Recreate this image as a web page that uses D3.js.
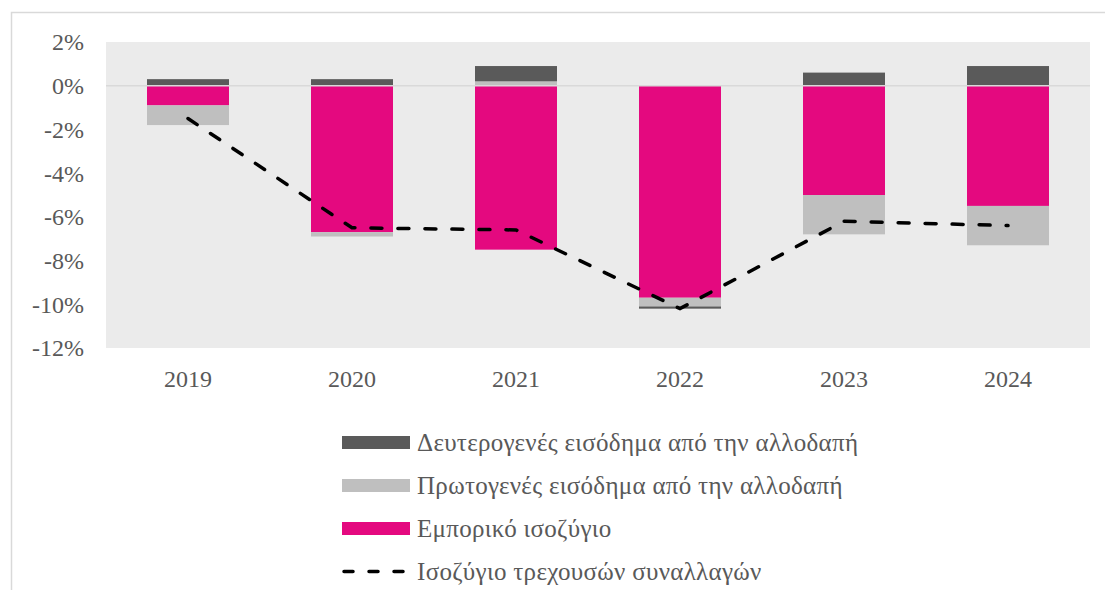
<!DOCTYPE html>
<html><head><meta charset="utf-8">
<script src="https://cdn.jsdelivr.net/npm/d3@7"></script>
<style>html,body{margin:0;padding:0;background:#fff;}</style>
</head><body>
<svg id="chart" width="1105" height="590"></svg>
<script>
const years = ["2019","2020","2021","2022","2023","2024"];
const trade = [-0.9, -6.7, -7.5, -9.7, -5.0, -5.5];
const primary = [-0.9, -0.2, 0.2, -0.4, -1.8, -1.8];
const secondary = [0.3, 0.3, 0.7, -0.1, 0.6, 0.9];
const currentAccount = [-1.5, -6.5, -6.6, -10.2, -6.2, -6.4];
const yTicks = [2, 0, -2, -4, -6, -8, -10, -12];
const seriesNames = ["Δευτερογενές εισόδημα από την αλλοδαπή", "Πρωτογενές εισόδημα από την αλλοδαπή", "Εμπορικό ισοζύγιο", "Ισοζύγιο τρεχουσών συναλλαγών"];

const colors = {trade:"#e4097f", primary:"#bfbfbf", secondary:"#5a5a5a"};
const FONT = "'Liberation Serif', serif";
const TXT = "#595959";

const svg = d3.select("#chart");
svg.append("rect").attr("width",1105).attr("height",590).attr("fill","#fff");
svg.append("rect").attr("x",11.5).attr("y",12.5).attr("width",1200).attr("height",700)
  .attr("fill","none").attr("stroke","#d9d9d9").attr("stroke-width",1.5);

const L=106, R=1090, T=42, B=348;
svg.append("rect").attr("x",L).attr("y",T).attr("width",R-L).attr("height",B-T).attr("fill","#ebebeb");

const x = d3.scaleBand().domain(years).range([L,R]).paddingInner(0.5).paddingOuter(0.25);
const y = d3.scaleLinear().domain([-12,2]).range([B,T]);

const rows = years.map((yr,i)=>({year:yr, trade:trade[i], primary:primary[i], secondary:secondary[i]}));
const stack = d3.stack().keys(["trade","primary","secondary"]).offset(d3.stackOffsetDiverging);
const layers = stack(rows);

svg.append("g").selectAll("g").data(layers).join("g")
  .attr("fill", d=>colors[d.key])
  .selectAll("rect").data(d=>d).join("rect")
  .attr("x", d=>x(d.data.year))
  .attr("width", x.bandwidth())
  .attr("y", d=>y(Math.max(d[0],d[1])))
  .attr("height", d=>Math.abs(y(d[0])-y(d[1])));

// zero line
svg.append("line").attr("x1",L).attr("x2",R).attr("y1",y(0)).attr("y2",y(0))
  .attr("stroke","#d9d9d9").attr("stroke-width",1.5);

// y axis
const yAxis = d3.axisLeft(y).tickValues(yTicks).tickFormat(d=>d+"%").tickSize(0).tickPadding(0);
const ga = svg.append("g").attr("transform","translate(84,0)").call(yAxis);
ga.select(".domain").remove();
ga.selectAll("text").attr("font-family",FONT).attr("font-size",24).attr("fill",TXT).attr("dy","0.33em");

// x axis
const xAxis = d3.axisBottom(x).tickSize(0).tickPadding(0);
const gx = svg.append("g").attr("transform",`translate(0,${B})`).call(xAxis);
gx.select(".domain").remove();
gx.selectAll("text").attr("font-family",FONT).attr("font-size",24).attr("fill",TXT).attr("y",0).attr("dy","39px");

// line
const line = d3.line().x((d,i)=>x(years[i])+x.bandwidth()/2).y(d=>y(d));
svg.append("path").datum(currentAccount).attr("d",line).attr("fill","none")
  .attr("stroke","#000").attr("stroke-width",3.5).attr("stroke-dasharray","11,16").attr("stroke-linecap","round");

// legend
const lg = svg.append("g");
const legItems = [
  {name:seriesNames[0], type:"rect", color:colors.secondary},
  {name:seriesNames[1], type:"rect", color:colors.primary},
  {name:seriesNames[2], type:"rect", color:colors.trade},
  {name:seriesNames[3], type:"line", color:"#000"}
];
legItems.forEach((it,i)=>{
  const cy = 442.5 + i*43;
  if(it.type==="rect"){
    lg.append("rect").attr("x",342).attr("y",cy-6.5).attr("width",68).attr("height",13).attr("fill",it.color);
  } else {
    lg.append("line").attr("x1",344).attr("x2",408).attr("y1",cy).attr("y2",cy)
      .attr("stroke","#000").attr("stroke-width",3.5).attr("stroke-dasharray","9,16").attr("stroke-linecap","round");
  }
  lg.append("text").attr("x",417).attr("y",cy).attr("dy","0.33em")
    .attr("font-family",FONT).attr("font-size",25).attr("letter-spacing","0.3px").attr("fill",TXT).text(it.name);
});
</script>
</body></html>
